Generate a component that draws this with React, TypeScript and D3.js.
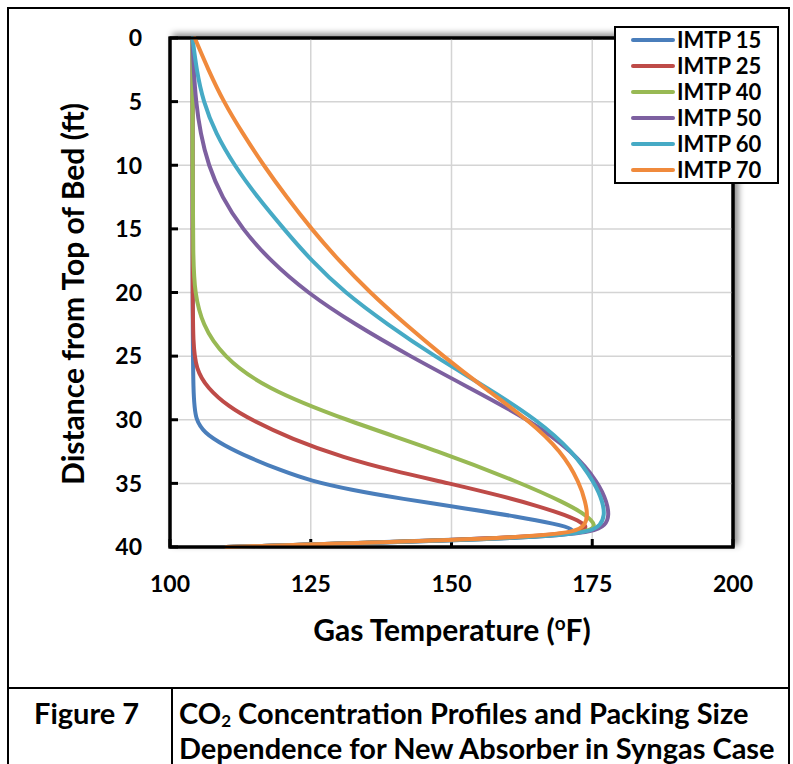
import * as d3 from 'd3';
import { useEffect, useRef } from 'react';

// gas temperature profiles down the bed, one pair of arrays per packing size
const seriesNames = ['IMTP 15', 'IMTP 25', 'IMTP 40', 'IMTP 50', 'IMTP 60', 'IMTP 70'];
const seriesColors = ['#4a7ebb', '#be4b48', '#98b954', '#7d60a0', '#46aac5', '#f08a3c'];

const depth15 = [0, 20, 28.5, 30, 31, 32, 33, 34, 34.8, 35.5, 36.2, 37, 37.6, 38.2, 38.6, 38.95, 39.2, 39.45, 39.75, 40];
const temp15 = [104, 104, 104.1, 104.6, 106, 109.5, 114.2, 119.8, 125, 132, 141, 153, 161.5, 168.6, 171.8, 171.2, 164, 150, 128, 110];

const depth25 = [0, 20, 24, 26, 27.5, 29, 30, 31.5, 33, 34, 35, 36, 36.8, 37.5, 38.1, 38.5, 38.85, 39.15, 39.45, 39.75, 40];
const temp25 = [104, 104, 104.1, 104.6, 106.6, 110.5, 114.4, 121.5, 131, 139.5, 149.6, 159, 165.5, 170.3, 173.3, 174.2, 172.2, 165, 151, 128, 110];

const depth40 = [0, 10, 17.5, 20, 22.5, 25, 27.5, 30, 32.5, 35, 36.5, 37.5, 38.3, 38.8, 39.15, 39.45, 39.75, 40];
const temp40 = [104, 104, 104.1, 104.4, 105.7, 109.3, 116.8, 131, 148, 162.5, 170, 174, 175.8, 174.4, 167, 152, 128, 110];

const depth50 = [0, 2.5, 5, 7.5, 10, 12.5, 15, 17.5, 20, 22.5, 25, 27.5, 30, 32.5, 35, 36.5, 37.5, 38.3, 38.8, 39.15, 39.45, 39.75, 40];
const temp50 = [104, 104.2, 104.6, 105.4, 106.8, 109.2, 112.8, 117.8, 124.3, 132.8, 142.6, 153.2, 163.8, 171.6, 176.2, 177.6, 178, 177.4, 175.2, 168, 153, 129, 110];

const depth60 = [0, 2.5, 5, 7.5, 10, 12.5, 15, 17.5, 20, 22.5, 25, 27.5, 30, 32.5, 35, 36.5, 37.5, 38.3, 38.8, 39.15, 39.45, 39.75, 40];
const temp60 = [104, 104.7, 105.9, 108.1, 111.4, 115.5, 120.2, 125.1, 131, 138.6, 146.9, 156.4, 165.2, 171.6, 175.5, 176.9, 177.2, 176.5, 174.6, 168, 153, 129, 110];

const depth70 = [0, 2.5, 5, 7.5, 10, 12.5, 15, 17.5, 20, 22.5, 25, 27.5, 30, 32.5, 35, 36.5, 37.5, 38.3, 38.8, 39.15, 39.45, 39.75, 40];
const temp70 = [104.4, 106.8, 109.5, 112.9, 116.6, 120.7, 125.1, 130, 135.5, 141.8, 148.5, 155.8, 163.6, 169.6, 172.8, 173.8, 174.2, 173.7, 172.2, 165, 151, 128, 110];

const depths = [depth15, depth25, depth40, depth50, depth60, depth70];
const temps = [temp15, temp25, temp40, temp50, temp60, temp70];

const xTicks = [100, 125, 150, 175, 200];
const yTicks = [0, 5, 10, 15, 20, 25, 30, 35, 40];

const FONT = "Lato, 'Open Sans', sans-serif";

export default function App() {
  const ref = useRef<SVGSVGElement>(null);

  useEffect(() => {
    const svg = d3.select(ref.current);
    svg.selectAll('*').remove();

    const left = 170, right = 733, top = 38, bottom = 547;

    const x = d3.scaleLinear().domain([100, 200]).range([left, right]);
    const y = d3.scaleLinear().domain([0, 40]).range([top, bottom]);

    // outer figure frame and caption table
    const frame = svg.append('g').attr('fill', 'none').attr('stroke', '#000').attr('stroke-width', 2);
    frame.append('rect').attr('x', 8).attr('y', 8).attr('width', 781).attr('height', 780);
    frame.append('line').attr('x1', 8).attr('x2', 789).attr('y1', 688).attr('y2', 688);
    frame.append('line').attr('x1', 172).attr('x2', 172).attr('y1', 688).attr('y2', 764);

    const defs = svg.append('defs');
    const filt = defs.append('filter').attr('id', 'shadow')
      .attr('x', '-10%').attr('y', '-10%').attr('width', '120%').attr('height', '120%');
    filt.append('feDropShadow').attr('dx', 4).attr('dy', -3).attr('stdDeviation', 3)
      .attr('flood-color', '#000').attr('flood-opacity', 0.45);

    // plot area with shadow
    svg.append('rect')
      .attr('x', left).attr('y', top).attr('width', right - left).attr('height', bottom - top)
      .attr('fill', '#fff').attr('stroke', '#000').attr('stroke-width', 3)
      .attr('filter', 'url(#shadow)');

    const grid = svg.append('g').attr('stroke', '#d4d4d4').attr('stroke-width', 1.5);
    grid.selectAll('.gx').data(xTicks.slice(1, -1)).enter().append('line')
      .attr('x1', d => x(d)).attr('x2', d => x(d)).attr('y1', top).attr('y2', bottom);
    grid.selectAll('.gy').data(yTicks.slice(1, -1)).enter().append('line')
      .attr('x1', left).attr('x2', right).attr('y1', d => y(d)).attr('y2', d => y(d));

    // inside tick marks
    const ticks = svg.append('g').attr('stroke', '#000').attr('stroke-width', 3);
    ticks.selectAll('.ty').data(yTicks).enter().append('line')
      .attr('x1', left).attr('x2', left + 8).attr('y1', d => y(d)).attr('y2', d => y(d));
    ticks.selectAll('.tx').data(xTicks).enter().append('line')
      .attr('x1', d => x(d)).attr('x2', d => x(d)).attr('y1', bottom).attr('y2', bottom - 8);

    // b-spline smooths the hand-read points
    const line = d3.line<[number, number]>()
      .x(d => x(d[1]))
      .y(d => y(d[0]))
      .curve(d3.curveBasis);

    const curves = svg.append('g').attr('fill', 'none').attr('stroke-width', 4)
      .attr('stroke-linejoin', 'round').attr('stroke-linecap', 'round');
    seriesNames.forEach((name, i) => {
      const pts = depths[i].map((d, j) => [d, temps[i][j]] as [number, number]);
      curves.append('path').attr('d', line(pts)).attr('stroke', seriesColors[i]);
    });

    // redraw the plot border on top of the curves
    svg.append('rect')
      .attr('x', left).attr('y', top).attr('width', right - left).attr('height', bottom - top)
      .attr('fill', 'none').attr('stroke', '#000').attr('stroke-width', 3);

    // tick labels
    const labels = svg.append('g').attr('font-family', FONT).attr('font-weight', 700)
      .attr('font-size', 23).attr('fill', '#000');
    labels.selectAll('.ly').data(yTicks).enter().append('text')
      .attr('x', 142).attr('y', d => y(d)).attr('dy', '0.36em').attr('text-anchor', 'end')
      .text(d => d);
    labels.selectAll('.lx').data(xTicks).enter().append('text')
      .attr('x', d => x(d)).attr('y', 584).attr('dy', '0.36em').attr('text-anchor', 'middle')
      .text(d => d);

    // axis titles
    const xt = svg.append('text').attr('x', 452).attr('y', 641).attr('text-anchor', 'middle')
      .attr('font-family', FONT).attr('font-weight', 700).attr('font-size', 30);
    xt.append('tspan').text('Gas Temperature (');
    xt.append('tspan').attr('font-size', 19).attr('dy', -11).text('o');
    xt.append('tspan').attr('dy', 11).text('F)');

    svg.append('text').attr('transform', 'translate(84,294) rotate(-90)')
      .attr('text-anchor', 'middle')
      .attr('font-family', FONT).attr('font-weight', 700).attr('font-size', 30)
      .text('Distance from Top of Bed (ft)');

    // legend
    const lg = svg.append('g');
    lg.append('rect').attr('x', 615).attr('y', 27).attr('width', 163).attr('height', 156)
      .attr('fill', '#fff').attr('stroke', '#000').attr('stroke-width', 2);
    seriesNames.forEach((name, i) => {
      const ly = 40 + i * 26;
      lg.append('line').attr('x1', 633).attr('x2', 673).attr('y1', ly).attr('y2', ly)
        .attr('stroke', seriesColors[i]).attr('stroke-width', 4).attr('stroke-linecap', 'round');
      lg.append('text').attr('x', 677).attr('y', ly).attr('dy', '0.36em')
        .attr('font-family', FONT).attr('font-weight', 700).attr('font-size', 22)
        .text(name);
    });

    // caption
    const cap = svg.append('g').attr('font-family', FONT).attr('font-weight', 700)
      .attr('font-size', 29).attr('fill', '#000');
    cap.append('text').attr('x', 34).attr('y', 724).text('Figure 7');
    const c1 = cap.append('text').attr('x', 179).attr('y', 724);
    c1.append('tspan').text('CO');
    c1.append('tspan').attr('font-size', 17).attr('dy', 3).text('2');
    c1.append('tspan').attr('dy', -3).text(' Concentration Profiles and Packing Size');
    cap.append('text').attr('x', 179).attr('y', 759).text('Dependence for New Absorber in Syngas Case');
  }, []);

  return (
    <svg
      ref={ref}
      width={793}
      height={764}
      style={{ position: 'absolute', left: 0, top: 0, background: '#fff' }}
    />
  );
}
